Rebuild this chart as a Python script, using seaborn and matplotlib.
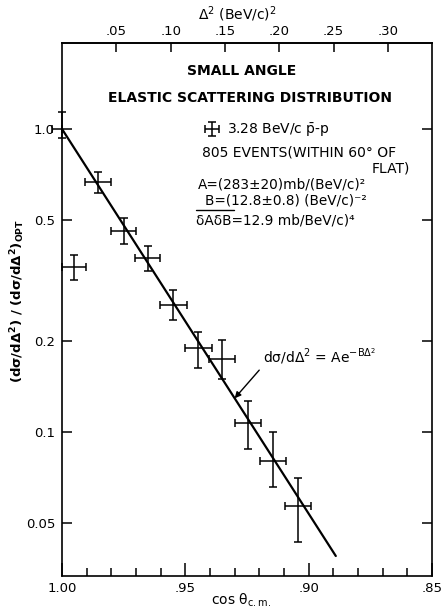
import numpy as np
import pandas as pd
import matplotlib
matplotlib.use("Agg")
import matplotlib.pyplot as plt
import seaborn as sns
from matplotlib.lines import Line2D

# ---------------- data ----------------
cos_theta = [1.000, 0.9952, 0.9855, 0.9750, 0.9653, 0.9548, 0.9448, 0.9351, 0.9246, 0.9145, 0.9044]
ratio     = [1.000, 0.350, 0.668, 0.461, 0.375, 0.2625, 0.189, 0.174, 0.107, 0.0802, 0.0570]
ratio_hi  = [1.138, 0.384, 0.721, 0.508, 0.411, 0.294, 0.214, 0.201, 0.1265, 0.100, 0.0705]
ratio_lo  = [0.934, 0.318, 0.615, 0.417, 0.340, 0.234, 0.163, 0.150, 0.0879, 0.0658, 0.0434]
cos_err_lo = [0.000, 0.0048, 0.0053, 0.0052, 0.0052, 0.0055, 0.0055, 0.0052, 0.0052, 0.0052, 0.0052]
cos_err_hi = [0.004, 0.0048, 0.0053, 0.0052, 0.0052, 0.0055, 0.0055, 0.0052, 0.0052, 0.0052, 0.0052]

# fitted exponential (straight on log scale): endpoints
fit_cos = [1.000, 0.889]
fit_ratio = [1.000, 0.039]

y_ticks = [1.0, 0.5, 0.2, 0.1, 0.05]
y_ticklabels = ["1.0", "0.5", "0.2", "0.1", "0.05"]
x_ticks = [1.00, 0.95, 0.90, 0.85]
x_ticklabels = ["1.00", ".95", ".90", ".85"]
x_minor = [0.99, 0.98, 0.97, 0.96, 0.94, 0.93, 0.92, 0.91, 0.89, 0.88, 0.87, 0.86]
d2_ticks = [0.05, 0.10, 0.15, 0.20, 0.25, 0.30]
d2_ticklabels = [".05", ".10", ".15", ".20", ".25", ".30"]
D2_PER_COS = 2.27  # Δ² = 2 p*² (1 - cos θ)

# ---------------- figure ----------------
sns.set_theme(style="ticks")
plt.rcParams["font.family"] = ["DejaVu Sans"]
plt.rcParams["mathtext.default"] = "regular"
plt.rcParams["axes.linewidth"] = 1.2
for k in ["text.color", "axes.labelcolor", "xtick.color", "ytick.color",
          "xtick.labelcolor", "ytick.labelcolor", "axes.edgecolor"]:
    plt.rcParams[k] = "black"

W, H = 443, 611
fig = plt.figure(figsize=(W / 100, H / 100), dpi=100)
fig.patch.set_facecolor("white")
L, R, T, B = 62, 432, 43, 576
ax = fig.add_axes([L / W, 1 - B / H, (R - L) / W, (B - T) / H])
ax.set_facecolor("white")

def fx(px):
    return px / W

def fy(py):
    return 1 - py / H

df = pd.DataFrame({"cos": fit_cos, "ratio": fit_ratio})
sns.lineplot(data=df, x="cos", y="ratio", ax=ax, color="black", linewidth=1.6, legend=False)

r = np.array(ratio)
eb = ax.errorbar(cos_theta, ratio,
                 yerr=[r - np.array(ratio_lo), np.array(ratio_hi) - r],
                 xerr=[cos_err_lo, cos_err_hi],
                 fmt="none", ecolor="black", elinewidth=1.1, capsize=2.6, capthick=1.1,
                 clip_on=False)
for coll in eb[2]:
    coll.set_clip_on(False)
for cap in eb[1]:
    cap.set_clip_on(False)

ax.set_yscale("log")
ax.set_xlim(1.0, 0.85)
ax.set_ylim(0.0335, 1.922)
ax.set_yticks(y_ticks)
ax.set_yticklabels(y_ticklabels)
ax.yaxis.set_minor_locator(matplotlib.ticker.NullLocator())
ax.set_xticks(x_ticks)
ax.set_xticklabels(x_ticklabels)
ax.set_xticks(x_minor, minor=True)
ax.set_xlabel("")
ax.set_ylabel("")

for s in ax.spines.values():
    s.set_color("black")
    s.set_linewidth(1.2)

ax.tick_params(axis="y", which="major", direction="in", length=7, width=1.1,
               left=True, right=True, labelleft=True, labelright=False, pad=5,
               labelsize=9.5, colors="black")
ax.tick_params(axis="x", which="major", direction="in", length=9.5, width=1.1,
               bottom=True, top=False, pad=4.5, labelsize=9.5, colors="black")
ax.tick_params(axis="x", which="minor", direction="in", length=6, width=1.1,
               bottom=True, top=False, colors="black")

secax = ax.secondary_xaxis("top", functions=(lambda c: D2_PER_COS * (1 - c),
                                              lambda d: 1 - d / D2_PER_COS))
secax.set_xticks(d2_ticks)
secax.set_xticklabels(d2_ticklabels)
secax.xaxis.set_minor_locator(matplotlib.ticker.NullLocator())
secax.tick_params(axis="x", direction="in", length=6.5, width=1.1, pad=3.5,
                  labelsize=9.5, colors="black")
secax.spines["top"].set_linewidth(1.2)
secax.spines["top"].set_color("black")

# axis titles
fig.text(fx(237), fy(14), r"$\Delta^2$ (BeV/c)$^2$", ha="center", va="center", fontsize=10)
fig.text(fx(241), fy(600), r"cos $\theta_{\mathregular{c.m.}}$", ha="center", va="center", fontsize=10)
fig.text(fx(18), fy(301), r"(dσ/d$\Delta^2$) / (dσ/d$\Delta^2$)$_{\mathregular{OPT}}$",
         rotation=90, ha="center", va="center", fontsize=9.5, fontweight="bold")

# chart title
fig.text(fx(242), fy(71), "SMALL ANGLE", ha="center", va="center", fontsize=10, fontweight="bold")
fig.text(fx(250), fy(98), "ELASTIC SCATTERING DISTRIBUTION", ha="center", va="center",
         fontsize=10, fontweight="bold")

# legend entry
leg = ax.legend(handles=[eb], labels=[r"3.28 BeV/c $\bar{\mathregular{p}}$-p"],
                loc="center left", bbox_to_anchor=(fx(203), fy(130)),
                bbox_transform=fig.transFigure, frameon=False, handlelength=1.3,
                handletextpad=0.45, borderpad=0, borderaxespad=0, fontsize=10)

fig.text(fx(202), fy(152), "805 EVENTS(WITHIN 60° OF", ha="left", va="center", fontsize=10)
fig.text(fx(410), fy(168), "FLAT)", ha="right", va="center", fontsize=10)
fig.text(fx(198), fy(185), "A=(283±20)mb/(BeV/c)²", ha="left", va="center", fontsize=9.8)
fig.text(fx(205), fy(201), "B=(12.8±0.8) (BeV/c)⁻²", ha="left", va="center", fontsize=9.8)
fig.add_artist(Line2D([fx(196), fx(234)], [fy(210), fy(210)], color="black", linewidth=1.0))
fig.text(fx(196), fy(220), "δAδB=12.9 mb/BeV/c)⁴", ha="left", va="center", fontsize=9.8)

# formula annotation with arrow to the fit line
a_cos = 0.930
a_val = float(np.exp(np.interp(a_cos, fit_cos[::-1], np.log(fit_ratio[::-1]))))
ax.annotate(r"dσ/d$\Delta^2$ = Ae$^{-B\Delta^2}$", xy=(a_cos, a_val), xycoords="data",
            xytext=(fx(263), fy(356)), textcoords="figure fraction",
            ha="left", va="center", fontsize=10,
            arrowprops=dict(arrowstyle="-|>", color="black", lw=1.0, mutation_scale=9,
                            relpos=(0.0, 0.0), shrinkA=1, shrinkB=0))

fig.savefig("out.png", dpi=100, facecolor="white")
